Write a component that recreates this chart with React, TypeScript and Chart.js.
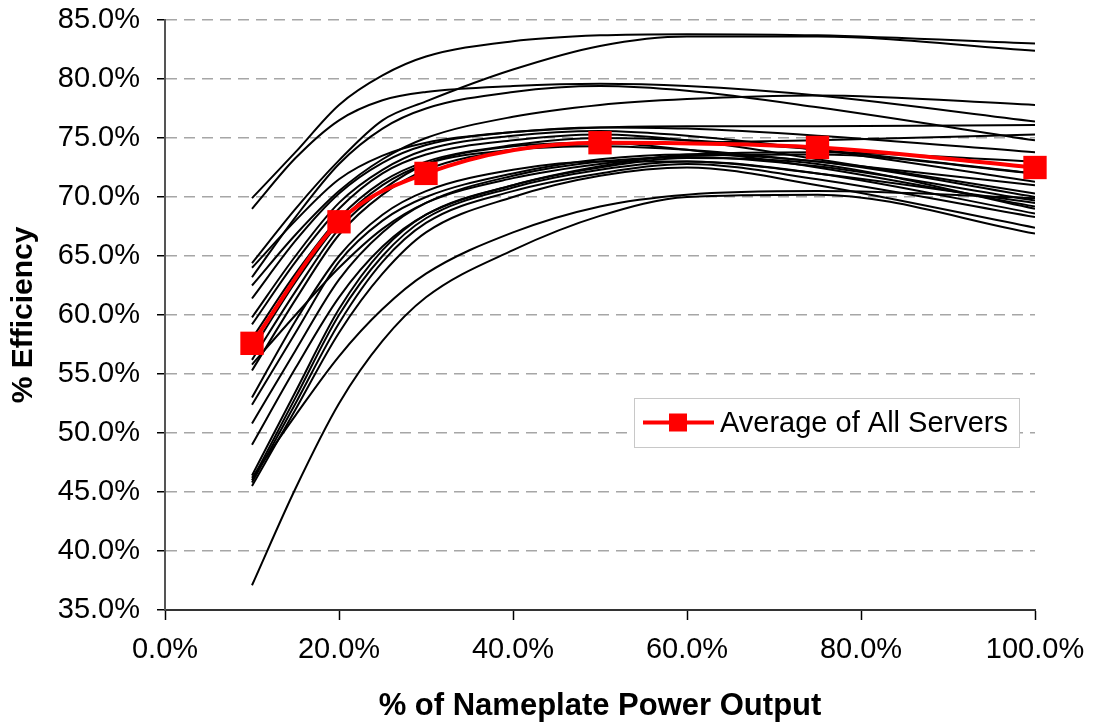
import React, { useEffect, useRef } from "react";
import { Chart, registerables } from "chart.js";

Chart.register(...registerables);

// ---- data ----
const loadPct = [10, 15, 20, 25, 30, 40, 50, 60, 75, 100];

const server01 = [69.9, 73.8, 77.8, 80.3, 81.9, 83.2, 83.7, 83.8, 83.7, 83.0];
const server02 = [64.4, 69.0, 73.1, 76.5, 78.1, 80.8, 82.8, 83.6, 83.6, 82.4];
const server03 = [69.0, 73.3, 76.5, 78.2, 78.9, 79.4, 79.6, 79.4, 78.6, 76.4];
const server04 = [63.2, 68.3, 72.8, 75.8, 77.5, 78.9, 79.4, 79.0, 77.6, 74.8];
const server05 = [62.5, 66.8, 70.5, 73.2, 75.0, 76.8, 77.8, 78.3, 78.6, 77.8];
const server06 = [64.0, 68.0, 71.5, 73.5, 74.6, 75.5, 75.9, 76.0, 76.0, 76.1];
const server07 = [61.4, 66.3, 70.3, 72.9, 74.4, 75.5, 75.9, 75.8, 75.2, 73.8];
const server08 = [59.8, 65.0, 69.5, 72.3, 74.0, 75.2, 75.6, 75.2, 74.0, 71.3];
const server09 = [59.2, 64.5, 69.0, 72.0, 73.6, 74.8, 75.3, 74.8, 73.2, 70.3];
const server10 = [58.0, 63.5, 68.2, 71.3, 73.0, 74.4, 75.0, 74.8, 74.0, 72.0];
const server11 = [56.2, 62.0, 67.3, 70.6, 72.8, 74.3, 74.6, 74.0, 72.5, 69.2];
const server12 = [55.3, 61.3, 66.8, 70.2, 72.3, 74.0, 74.5, 74.6, 74.8, 75.3];
const server13 = [57.0, 62.8, 67.8, 71.0, 72.8, 74.0, 74.3, 74.0, 73.0, 71.0];
const server14 = [55.8, 60.0, 64.0, 67.3, 69.5, 71.6, 72.8, 73.5, 73.6, 72.0];
const server15 = [53.0, 59.5, 65.0, 68.5, 70.5, 72.3, 73.0, 73.0, 72.0, 69.5];
const server16 = [52.4, 58.5, 64.5, 68.0, 70.0, 72.0, 73.2, 73.6, 73.0, 70.0];
const server17 = [50.8, 57.0, 63.0, 67.0, 69.5, 71.8, 73.0, 73.4, 72.6, 69.7];
const server18 = [49.0, 55.5, 61.5, 65.8, 68.5, 71.0, 72.6, 73.6, 73.8, 73.0];
const server19 = [46.4, 53.5, 60.5, 65.5, 68.5, 71.0, 72.5, 73.3, 72.8, 69.0];
const server20 = [46.0, 53.0, 60.0, 65.0, 68.2, 70.8, 72.3, 73.0, 72.0, 68.6];
const server21 = [45.8, 52.5, 59.3, 64.5, 67.8, 70.5, 72.0, 72.8, 71.5, 68.3];
const server22 = [45.5, 52.0, 58.5, 63.5, 67.0, 70.0, 71.8, 72.5, 71.0, 67.4];
const server23 = [46.2, 51.5, 56.5, 60.5, 63.5, 67.0, 69.2, 70.2, 70.5, 69.9];
const server24 = [37.1, 45.3, 52.5, 57.8, 61.5, 65.5, 68.4, 70.0, 70.2, 66.9];

const serverCurves = [
  server01, server02, server03, server04, server05, server06, server07, server08,
  server09, server10, server11, server12, server13, server14, server15, server16,
  server17, server18, server19, server20, server21, server22, server23, server24,
];

const avgLoadPct = [10, 20, 30, 50, 75, 100];
const avgEfficiency = [57.6, 67.9, 72.0, 74.6, 74.2, 72.5];

const xTickValues = [0, 20, 40, 60, 80, 100];
const yTickValues = [35, 40, 45, 50, 55, 60, 65, 70, 75, 80, 85];

const legendLabel = "Average of All Servers";
const xTitle = "% of Nameplate Power Output";
const yTitle = "% Efficiency";

const FONT = "'Liberation Sans', Arial, sans-serif";

const legendPlugin = {
  id: "avgLegend",
  afterDraw(chart: any) {
    const { ctx, chartArea: a } = chart;
    const w = a.right - a.left;
    const h = a.bottom - a.top;
    const fx = (px: number) => a.left + ((px - 165) / 870) * w;
    const fy = (py: number) => a.top + ((py - 20) / 590) * h;
    const left = fx(634), right = fx(1019), top = fy(398), bottom = fy(447);
    const cy = (top + bottom) / 2;
    ctx.save();
    ctx.fillStyle = "#ffffff";
    ctx.fillRect(left, top, right - left, bottom - top);
    ctx.strokeStyle = "#c8c8c8";
    ctx.lineWidth = 1;
    ctx.strokeRect(left + 0.5, top + 0.5, right - left, bottom - top);
    ctx.strokeStyle = "#ff0000";
    ctx.lineWidth = 4;
    ctx.beginPath();
    ctx.moveTo(fx(643), cy);
    ctx.lineTo(fx(714), cy);
    ctx.stroke();
    ctx.fillStyle = "#ff0000";
    ctx.fillRect(fx(669), cy - 9, 18, 18);
    ctx.fillStyle = "#000000";
    ctx.font = `29px ${FONT}`;
    ctx.textBaseline = "middle";
    ctx.textAlign = "left";
    ctx.fillText(legendLabel, fx(720), cy + 1);
    ctx.restore();
  },
};

export default function App() {
  const ref = useRef<HTMLCanvasElement | null>(null);

  useEffect(() => {
    document.body.style.margin = "0";
    const canvas = ref.current;
    if (!canvas) return;

    const blackSets = serverCurves.map((vals, i) => ({
      label: `Server ${i + 1}`,
      data: vals.map((v, j) => ({ x: loadPct[j], y: v })),
      borderColor: "#000000",
      borderWidth: 2,
      pointRadius: 0,
      cubicInterpolationMode: "monotone" as const,
      fill: false,
      order: 1,
    }));

    const avgSet = {
      label: legendLabel,
      data: avgEfficiency.map((v, j) => ({ x: avgLoadPct[j], y: v })),
      borderColor: "#ff0000",
      backgroundColor: "#ff0000",
      borderWidth: 4,
      pointStyle: "rect" as const,
      pointRadius: 16.5,
      pointBorderWidth: 0,
      pointBackgroundColor: "#ff0000",
      cubicInterpolationMode: "monotone" as const,
      fill: false,
      clip: false,
      order: 0,
    };

    const chart = new Chart(canvas, {
      type: "line",
      data: { datasets: [avgSet, ...blackSets] as any },
      plugins: [legendPlugin],
      options: {
        responsive: false,
        animation: false,
        layout: { padding: { left: 0, right: 72, top: 20, bottom: 0 } },
        plugins: {
          legend: { display: false },
          tooltip: { enabled: false },
        },
        scales: {
          x: {
            type: "linear",
            min: 0,
            max: 100,
            afterFit: (s: any) => {
              s.height = 116;
              s.paddingLeft = 0;
              s.paddingRight = 0;
            },
            afterBuildTicks: (s: any) => {
              s.ticks = xTickValues.map((v) => ({ value: v }));
            },
            ticks: {
              color: "#000",
              font: { family: FONT, size: 29 },
              padding: 13,
              maxRotation: 0,
              callback: (v: any) => `${Number(v).toFixed(1)}%`,
            },
            grid: {
              drawOnChartArea: false,
              drawTicks: true,
              tickLength: 10,
              tickColor: "#000",
              tickWidth: 1.5,
            },
            border: { display: true, color: "#333", width: 2 },
            title: {
              display: true,
              text: xTitle,
              color: "#000",
              font: { family: FONT, size: 31, weight: "bold" },
              padding: { top: 0, bottom: 1 },
            },
          },
          y: {
            type: "linear",
            min: 35,
            max: 85,
            afterFit: (s: any) => {
              s.width = 165;
              s.paddingTop = 0;
              s.paddingBottom = 0;
            },
            afterBuildTicks: (s: any) => {
              s.ticks = yTickValues.map((v) => ({ value: v }));
            },
            ticks: {
              color: "#000",
              font: { family: FONT, size: 29 },
              padding: 17,
              callback: (v: any) => `${Number(v).toFixed(1)}%`,
            },
            grid: {
              color: "#a6a6a6",
              lineWidth: 1.5,
              drawTicks: true,
              tickLength: 8,
              tickColor: "#000",
              tickWidth: 1.5,
              tickBorderDash: [],
            } as any,
            border: { display: true, color: "#555", width: 2, dash: [11, 7] },
            title: {
              display: true,
              text: yTitle,
              color: "#000",
              font: { family: FONT, size: 30, weight: "bold" },
              padding: { top: 6, bottom: 0 },
            },
          },
        },
      },
    });

    return () => chart.destroy();
  }, []);

  return (
    <div style={{ width: 1107, height: 726, background: "#fff" }}>
      <canvas ref={ref} width={1107} height={726} style={{ display: "block" }} />
    </div>
  );
}
